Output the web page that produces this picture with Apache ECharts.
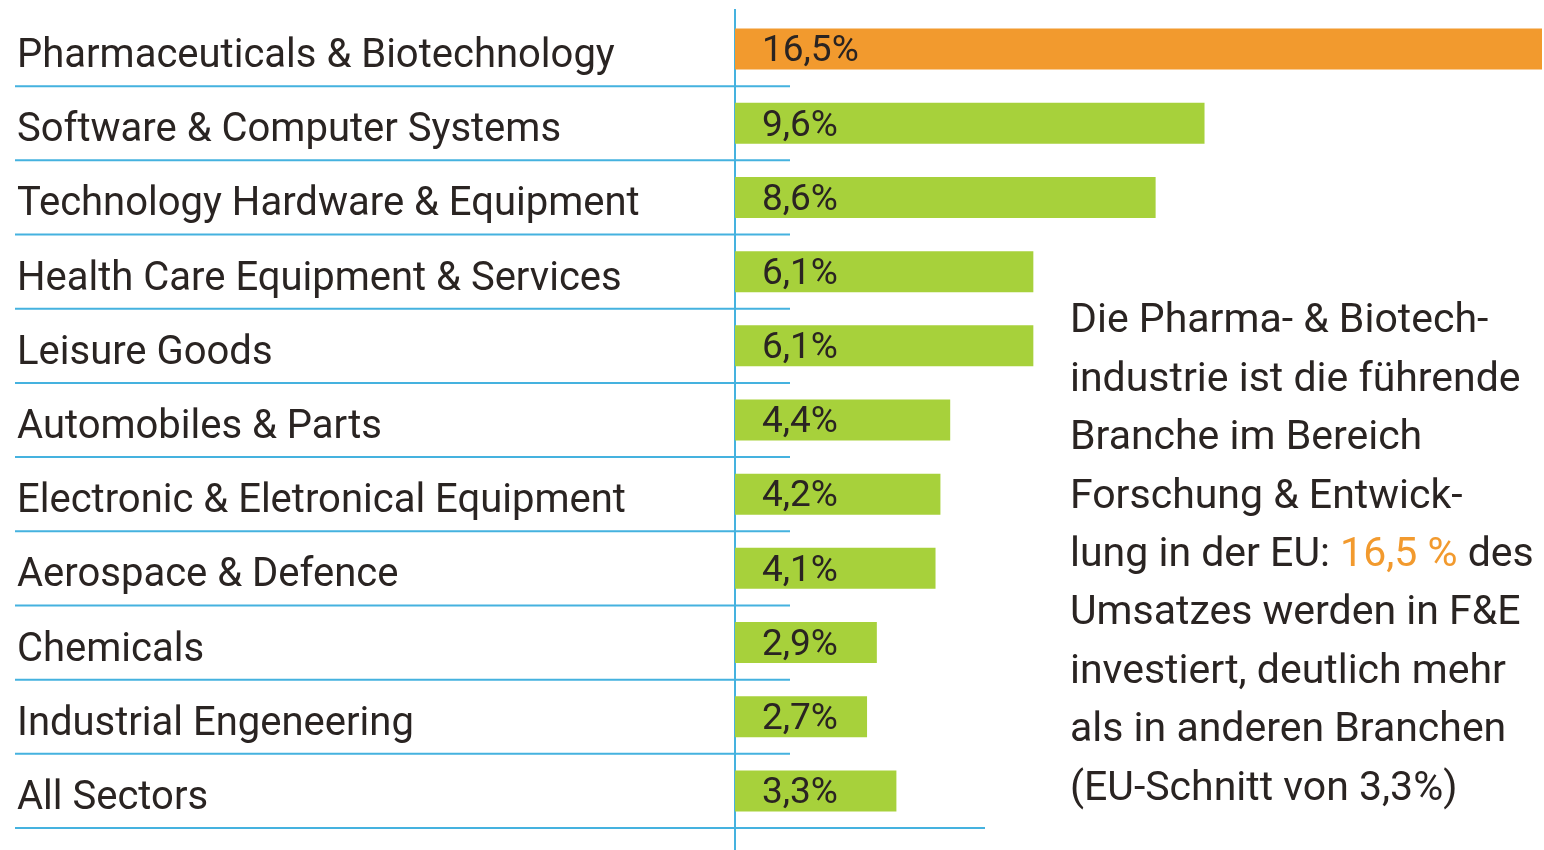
<!DOCTYPE html>
<html lang="de">
<head>
    <meta charset="UTF-8">
    <title>F&E-Intensität nach Branche</title>
    <script src="https://cdn.jsdelivr.net/npm/echarts@6/dist/echarts.min.js"></script>
    <style>
        html, body { margin: 0; padding: 0; background: #fff; }
    </style>
</head>
<body>
<div id="main" style="width: 1544px;height:850px;"></div>
<script type="text/javascript">
    // Branchen (von oben nach unten)
    const sectors = [
        "Pharmaceuticals & Biotechnology",
        "Software & Computer Systems",
        "Technology Hardware & Equipment",
        "Health Care Equipment & Services",
        "Leisure Goods",
        "Automobiles & Parts",
        "Electronic & Eletronical Equipment",
        "Aerospace & Defence",
        "Chemicals",
        "Industrial Engeneering",
        "All Sectors"
    ];
    // F&E-Anteil am Umsatz in %
    const shares = [16.5, 9.6, 8.6, 6.1, 6.1, 4.4, 4.2, 4.1, 2.9, 2.7, 3.3];

    const note = [
        "Die Pharma- & Biotech-",
        "industrie ist die führende",
        "Branche im Bereich",
        "Forschung & Entwick-",
        "lung in der EU: {o|16,5 %} des",
        "Umsatzes werden in F&E",
        "investiert, deutlich mehr",
        "als in anderen Branchen",
        "(EU-Schnitt von 3,3%)"
    ];

    const ORANGE = "#F29A2E";
    const GREEN = "#A7D13B";
    const BLUE = "#45B2DF";
    const TEXT = "#2A2422";
    const FONT = "Roboto";

    const fmt = function (v) {
        return v.toFixed(1).replace(".", ",") + "%";
    };

    const myChart = echarts.init(document.getElementById('main'));
    myChart.setOption({
        animation: false,
        title: {
            left: 1070,
            top: 293,
            padding: 0,
            text: note.join("\n"),
            textStyle: {
                fontFamily: FONT,
                fontSize: 41,
                fontWeight: "normal",
                lineHeight: 58.4,
                color: TEXT,
                rich: {
                    o: { color: ORANGE, fontFamily: FONT, fontSize: 41, lineHeight: 58.4 }
                }
            }
        },
        grid: {
            left: 735,
            right: 2,
            top: 12,
            bottom: 22
        },
        xAxis: {
            type: "value",
            min: 0,
            max: 16.5,
            show: false
        },
        yAxis: {
            type: "category",
            inverse: true,
            data: sectors,
            axisLine: { show: true, lineStyle: { color: BLUE, width: 2 } },
            axisTick: { show: false },
            splitLine: { show: false },
            axisLabel: {
                align: "left",
                margin: 718,
                formatter: function (v) { return "{s|" + v + "}"; },
                rich: {
                    s: {
                        fontFamily: FONT,
                        fontSize: 40,
                        color: TEXT,
                        padding: [16, 0, 0, 0]
                    }
                }
            }
        },
        series: [
            {
                type: "bar",
                data: shares,
                barWidth: 41,
                itemStyle: {
                    color: function (p) {
                        return p.value === Math.max.apply(null, shares) ? ORANGE : GREEN;
                    }
                },
                label: {
                    show: true,
                    position: "insideLeft",
                    distance: 27,
                    offset: [0, 3],
                    formatter: function (p) { return fmt(p.value); },
                    fontFamily: FONT,
                    fontSize: 37,
                    color: TEXT
                }
            },
            {
                // Trennlinien unter jeder Zeile
                type: "custom",
                silent: true,
                data: sectors.map(function (s, i) { return [0, i]; }),
                encode: { x: 0, y: 1 },
                renderItem: function (params, api) {
                    const i = params.dataIndex;
                    const c = api.coord([0, api.value(1)]);
                    const h = api.size([0, 1])[1];
                    const yb = c[1] + h / 2;
                    const last = i === sectors.length - 1;
                    const children = [{
                        type: "line",
                        shape: { x1: 15, y1: yb, x2: last ? 985 : 790, y2: yb },
                        style: { stroke: BLUE, lineWidth: 2 }
                    }];
                    if (i === 0) {
                        children.push({
                            type: "line",
                            shape: { x1: c[0], y1: 9, x2: c[0], y2: c[1] - h / 2 },
                            style: { stroke: BLUE, lineWidth: 2 }
                        });
                    }
                    if (last) {
                        children.push({
                            type: "line",
                            shape: { x1: c[0], y1: yb, x2: c[0], y2: api.getHeight() },
                            style: { stroke: BLUE, lineWidth: 2 }
                        });
                    }
                    return { type: "group", children: children };
                }
            }
        ]
    });
</script>
</body>
</html>
